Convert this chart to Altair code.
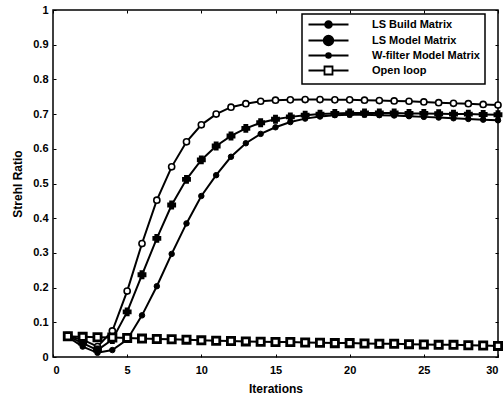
import altair as alt
import pandas as pd

iterations = list(range(1, 31))
series_names = ["LS Build Matrix", "LS Model Matrix", "W-filter Model Matrix", "Open loop"]

ls_build = [0.058, 0.030, 0.012, 0.020, 0.050, 0.120, 0.204, 0.297, 0.385, 0.464,
            0.524, 0.577, 0.616, 0.643, 0.662, 0.677, 0.687, 0.693, 0.697, 0.698,
            0.698, 0.697, 0.696, 0.694, 0.692, 0.690, 0.688, 0.686, 0.684, 0.682]
ls_model = [0.060, 0.050, 0.030, 0.075, 0.190, 0.327, 0.452, 0.548, 0.620, 0.669,
            0.700, 0.720, 0.730, 0.737, 0.740, 0.741, 0.742, 0.742, 0.741, 0.741,
            0.740, 0.739, 0.738, 0.737, 0.735, 0.733, 0.731, 0.730, 0.728, 0.726]
w_filter = [0.060, 0.040, 0.020, 0.050, 0.130, 0.237, 0.342, 0.438, 0.512, 0.568,
            0.608, 0.637, 0.659, 0.675, 0.685, 0.692, 0.697, 0.700, 0.702, 0.703,
            0.703, 0.703, 0.703, 0.702, 0.702, 0.701, 0.700, 0.700, 0.699, 0.698]
open_loop = [0.060, 0.058, 0.057, 0.056, 0.055, 0.053, 0.052, 0.051, 0.050, 0.048,
             0.047, 0.046, 0.045, 0.044, 0.043, 0.043, 0.042, 0.041, 0.040, 0.040,
             0.039, 0.038, 0.038, 0.037, 0.036, 0.035, 0.035, 0.034, 0.033, 0.032]

x_ticks = [0, 5, 10, 15, 20, 25, 30]
y_ticks = [0, 0.1, 0.2, 0.3, 0.4, 0.5, 0.6, 0.7, 0.8, 0.9, 1.0]

rows = []
for name, vals in zip(series_names, [ls_build, ls_model, w_filter, open_loop]):
    for it, v in zip(iterations, vals):
        rows.append({"iteration": it, "strehl": v, "series": name, "label": name})
df = pd.DataFrame(rows)

FONT = "Liberation Sans"


def circ(r):
    return f"M{-r},0A{r},{r} 0 1,0 {r},0A{r},{r} 0 1,0 {-r},0Z"


# legend glyphs: a short line with the series marker on it (unit: sqrt(size)/2 px)
legend_paths = [
    "M-5,0L5,0" + circ(0.85),
    "M-5,0L5,0" + circ(1.2),
    "M-5,0L5,0" + circ(0.6),
    "M-5,0L-1,0M1,0L5,0M-1,-1L1,-1L1,1L-1,1Z",
]

scale_x = alt.Scale(domain=[0, 30], nice=False)
scale_y = alt.Scale(domain=[0, 1], nice=False)

x_enc = alt.X("iteration:Q", scale=scale_x,
              axis=alt.Axis(values=x_ticks, title="Iterations", grid=False, domain=False,
                            offset=-3, tickSize=3, tickColor="black", tickWidth=1,
                            labelPadding=7, labelFont=FONT, labelFontSize=11,
                            labelFontWeight="bold", labelColor="black",
                            titleFont=FONT, titleFontSize=12, titleFontWeight="bold",
                            titleColor="black", titlePadding=8))
y_enc = alt.Y("strehl:Q", scale=scale_y,
              axis=alt.Axis(values=y_ticks, format=".1~f", title="Strehl Ratio", grid=False,
                            domain=False, offset=-3, tickSize=3, tickColor="black", tickWidth=1,
                            labelPadding=5, labelFont=FONT, labelFontSize=11,
                            labelFontWeight="bold", labelColor="black",
                            titleFont=FONT, titleFontSize=12, titleFontWeight="bold",
                            titleColor="black", titlePadding=8))

x_plain = alt.X("iteration:Q", scale=scale_x, axis=None)
y_plain = alt.Y("strehl:Q", scale=scale_y, axis=None)

x_top = alt.X("iteration:Q", scale=scale_x,
              axis=alt.Axis(orient="top", values=x_ticks, title="", grid=False, domain=False,
                            labels=False, offset=-3, tickSize=3, tickColor="black",
                            tickWidth=1))
y_right = alt.Y("strehl:Q", scale=scale_y,
                axis=alt.Axis(orient="right", values=y_ticks, title="", grid=False,
                              domain=False, labels=False, offset=-3, tickSize=3,
                              tickColor="black", tickWidth=1))

base = alt.Chart(df)

lines = base.mark_line(color="black", strokeWidth=2).encode(
    x=x_enc, y=y_enc, detail="series:N"
)

markers = base.mark_point(stroke="black", opacity=1).encode(
    x=x_plain, y=y_plain,
    shape=alt.Shape("series:N", scale=alt.Scale(domain=series_names,
                                                range=["circle", "circle", "cross", "square"]),
                    legend=None),
    fill=alt.Fill("series:N", scale=alt.Scale(domain=series_names,
                                              range=["black", "white", "black", "white"]),
                  legend=None),
    size=alt.Size("series:N", scale=alt.Scale(domain=series_names, range=[30, 52, 8, 30]),
                  legend=None),
    strokeWidth=alt.StrokeWidth("series:N", scale=alt.Scale(domain=series_names,
                                                            range=[1, 2.8, 0.6, 2.2]),
                                legend=None),
)

legend_layer = base.transform_filter("datum.iteration < 0").mark_point(
    strokeWidth=1.8, size=64, opacity=1
).encode(
    x=x_top, y=y_right,
    shape=alt.Shape("label:N", scale=alt.Scale(domain=series_names, range=legend_paths),
                    title=None,
                    legend=alt.Legend(orient="none", legendX=249, legendY=4)),
    fill=alt.Fill("label:N", scale=alt.Scale(domain=series_names,
                                             range=["black", "black", "black", "white"]),
                  title=None),
    stroke=alt.Stroke("label:N", scale=alt.Scale(domain=series_names,
                                                 range=["black", "black", "black", "black"]),
                      title=None),
)

chart = alt.layer(lines, markers, legend_layer).resolve_scale(
    shape="independent", fill="independent", stroke="independent"
).resolve_axis(
    x="independent", y="independent"
).properties(
    width=445, height=347,
    autosize=alt.AutoSizeParams(type="none"),
    padding={"left": 53, "top": 10, "right": 6, "bottom": 43},
    background="white",
).configure_view(
    stroke="black", strokeWidth=1.5
).configure_legend(
    strokeWidth=1.5, strokeColor="black", fillColor="white",
    symbolSize=64, symbolStrokeWidth=1.8, symbolStrokeColor="black",
    symbolOffset=16, labelOffset=38,
    labelFont=FONT, labelFontSize=11, labelFontWeight="bold", labelColor="black",
    rowPadding=0, padding=5,
)

chart.save("out.html", embed_options={"renderer": "svg", "actions": False})
